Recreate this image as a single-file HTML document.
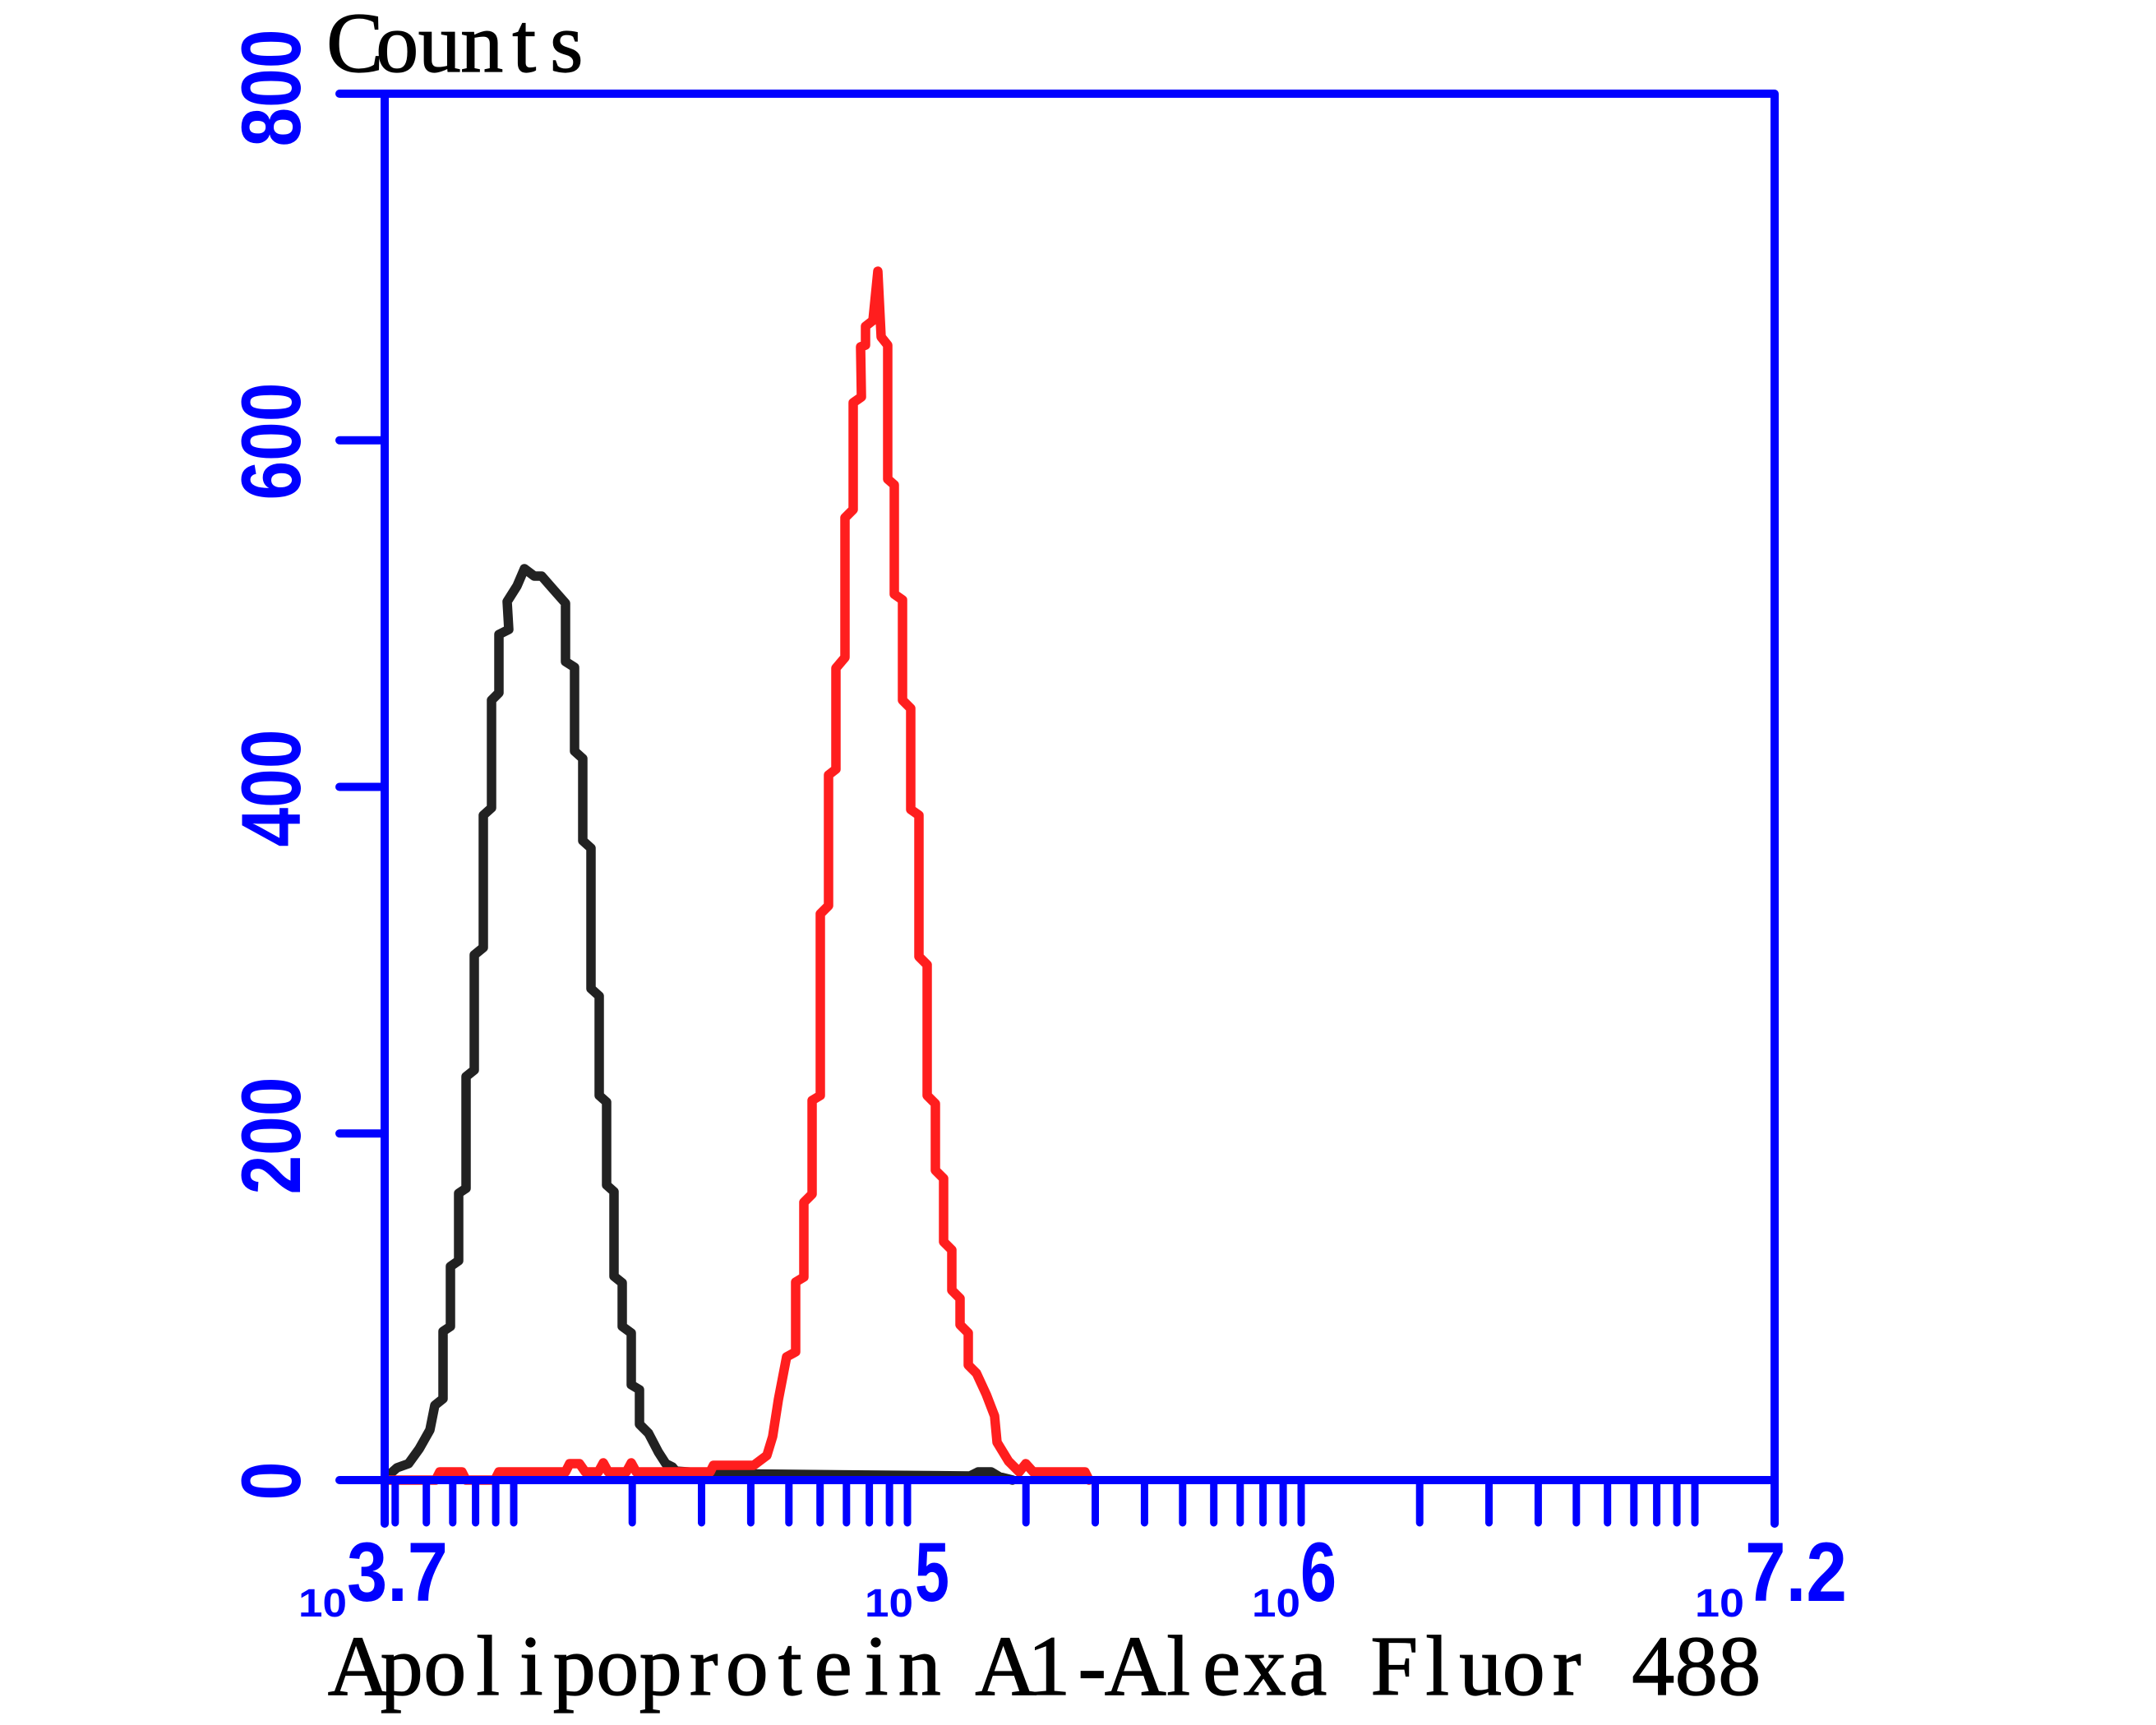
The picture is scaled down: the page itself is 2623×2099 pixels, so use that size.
<!DOCTYPE html>
<html>
<head>
<meta charset="utf-8">
<style>
  html, body { margin: 0; padding: 0; background: #ffffff; }
  svg { display: block; }
</style>
</head>
<body>
<svg xmlns="http://www.w3.org/2000/svg" width="2623" height="2099" viewBox="0 0 2623 2099">
  <rect x="0" y="0" width="2623" height="2099" fill="#ffffff"/>

  <!-- Black (control) histogram -->
  <g fill="none" stroke="#222222" stroke-width="11.5" stroke-linejoin="round" stroke-linecap="round">
    <path d="M470,1799 L474,1794 L483,1786 L497,1781 L510,1763 L523,1740 L529,1710 L539,1702 L539,1620 L548,1614 L548,1541 L558,1534 L558,1452 L567,1446 L567,1310 L577,1302 L577,1162 L588,1153 L588,992 L598,983 L598,852 L607,843 L607,772 L619,766 L617,732 L629,713 L638,692 L650,701 L659,701 L673,717 L688,734 L688,805 L699,812 L699,914 L709,923 L709,1023 L719,1032 L719,1203 L729,1212 L729,1333 L738,1341 L738,1442 L747,1450 L747,1553 L757,1561 L757,1614 L768,1622 L768,1685 L778,1691 L778,1733 L789,1744 L801,1767 L810,1781 L818,1785 L822,1790 L864,1793 L1180,1796 L1190,1791 L1206,1791 L1216,1797 L1232,1801"/>
  </g>

  <!-- Red (antibody) histogram -->
  <g fill="none" stroke="#ff1e1e" stroke-width="11.5" stroke-linejoin="round" stroke-linecap="round">
    <path d="M470,1801 L530,1801 L535,1791 L562,1791 L567,1801 L602,1801 L607,1791 L688,1791 L693,1781 L705,1781 L712,1791 L728,1791 L734,1780 L740,1791 L762,1791 L768,1780 L774,1791 L864,1791 L868,1783 L917,1783 L933,1771 L940,1748 L947,1703 L957,1651 L968,1645 L968,1560 L978,1554 L978,1463 L988,1453 L988,1339 L998,1333 L998,1112 L1008,1102 L1008,943 L1017,936 L1017,813 L1028,800 L1028,630 L1038,620 L1038,490 L1048,483 L1047,422 L1053,420 L1053,397 L1062,390 L1068,330 L1072,410 L1080,420 L1080,583 L1088,590 L1088,723 L1098,730 L1098,852 L1108,862 L1108,985 L1118,992 L1118,1164 L1128,1174 L1128,1333 L1138,1343 L1138,1424 L1148,1434 L1148,1511 L1158,1521 L1158,1570 L1168,1580 L1168,1612 L1178,1622 L1178,1661 L1188,1671 L1200,1697 L1210,1723 L1213,1755 L1227,1778 L1240,1791 L1248,1781 L1257,1791 L1320,1791 L1325,1801"/>
  </g>

  <!-- Axes frame -->
  <g fill="none" stroke="#0000ff" stroke-width="10" stroke-linejoin="round" stroke-linecap="round">
    <path d="M413,114 L2159,114 L2159,1854"/>
    <path d="M468,114 L468,1854"/>
    <path d="M413,1801 L2159,1801"/>
    <path d="M413,535.75 L468,535.75"/>
    <path d="M413,957.5 L468,957.5"/>
    <path d="M413,1379.25 L468,1379.25"/>
  </g>

  <!-- x ticks -->
  <g fill="none" stroke="#0000ff" stroke-width="9" stroke-linecap="round">
    <path d="M480.8,1801 V1853 M518.7,1801 V1853 M550.8,1801 V1853 M578.6,1801 V1853 M603.1,1801 V1853 M625,1801 V1853
             M769.2,1801 V1853 M853.5,1801 V1853 M913.4,1801 V1853 M959.8,1801 V1853 M997.7,1801 V1853 M1029.8,1801 V1853 M1057.6,1801 V1853 M1082.1,1801 V1853 M1104,1801 V1853
             M1248.2,1801 V1853 M1332.5,1801 V1853 M1392.4,1801 V1853 M1438.8,1801 V1853 M1476.7,1801 V1853 M1508.8,1801 V1853 M1536.6,1801 V1853 M1561.1,1801 V1853 M1583,1801 V1853
             M1727.2,1801 V1853 M1811.5,1801 V1853 M1871.4,1801 V1853 M1917.8,1801 V1853 M1955.7,1801 V1853 M1987.8,1801 V1853 M2015.6,1801 V1853 M2040.1,1801 V1853 M2062,1801 V1853"/>
  </g>

  <!-- Y tick labels (rotated) -->
  <g fill="#0000ff" font-family="'Liberation Sans', sans-serif" font-weight="bold" font-size="102" text-anchor="middle">
    <text transform="translate(365,107) rotate(-90)" textLength="143" lengthAdjust="spacingAndGlyphs">800</text>
    <text transform="translate(365,537) rotate(-90)" textLength="143" lengthAdjust="spacingAndGlyphs">600</text>
    <text transform="translate(365,959) rotate(-90)" textLength="143" lengthAdjust="spacingAndGlyphs">400</text>
    <text transform="translate(365,1382) rotate(-90)" textLength="143" lengthAdjust="spacingAndGlyphs">200</text>
    <text transform="translate(365,1802) rotate(-90)" textLength="47" lengthAdjust="spacingAndGlyphs">0</text>
  </g>

  <!-- X tick labels -->
  <g fill="#0000ff" font-family="'Liberation Sans', sans-serif" font-weight="bold">
    <text x="363" y="1967" font-size="48" textLength="59" lengthAdjust="spacingAndGlyphs">10</text>
    <text x="422" y="1948" font-size="102" textLength="123" lengthAdjust="spacingAndGlyphs">3.7</text>

    <text x="1052" y="1967" font-size="48" textLength="59" lengthAdjust="spacingAndGlyphs">10</text>
    <text x="1113" y="1948" font-size="102" textLength="42" lengthAdjust="spacingAndGlyphs">5</text>

    <text x="1523" y="1967" font-size="48" textLength="59" lengthAdjust="spacingAndGlyphs">10</text>
    <text x="1582" y="1948" font-size="102" textLength="44" lengthAdjust="spacingAndGlyphs">6</text>

    <text x="2062" y="1967" font-size="48" textLength="60" lengthAdjust="spacingAndGlyphs">10</text>
    <text x="2123" y="1948" font-size="102" textLength="124" lengthAdjust="spacingAndGlyphs">7.2</text>
  </g>

  <!-- Axis titles -->
  <g fill="#000000" stroke="#000000" stroke-width="1.2" font-family="'Liberation Serif', serif" font-size="104" text-anchor="middle">
    <text x="431.75 483.25 534.75 586.25 637.75 689.25" y="87">Counts</text>
    <text x="436.25 488.75 541.25 593.75 646.25 698.75 751.25 803.75 856.25 908.75 961.25 1013.75 1066.25 1118.75 1171.25 1223.75 1276.25 1328.75 1381.25 1433.75 1486.25 1538.75 1591.25 1643.75 1696.25 1748.75 1801.25 1853.75 1906.25 1958.75 2011.25 2063.75 2116.25" y="2062">Apolipoprotein A1-Alexa Fluor 488</text>
  </g>
</svg>
</body>
</html>
